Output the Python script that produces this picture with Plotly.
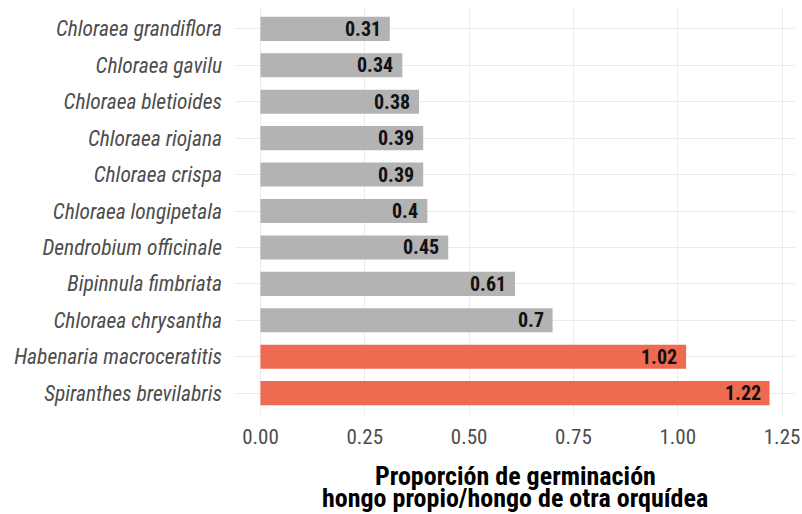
import plotly.graph_objects as go

species = [
    "Chloraea grandiflora", "Chloraea gavilu", "Chloraea bletioides",
    "Chloraea riojana", "Chloraea crispa", "Chloraea longipetala",
    "Dendrobium officinale", "Bipinnula fimbriata", "Chloraea chrysantha",
    "Habenaria macroceratitis", "Spiranthes brevilabris",
]
values = [0.31, 0.34, 0.38, 0.39, 0.39, 0.40, 0.45, 0.61, 0.70, 1.02, 1.22]
labels = ["0.31", "0.34", "0.38", "0.39", "0.39", "0.4", "0.45", "0.61", "0.7", "1.02", "1.22"]
highlight = [False] * 9 + [True, True]
x_ticks = [0, 0.25, 0.5, 0.75, 1.0, 1.25]
x_ticklabels = ["0.00", "0.25", "0.50", "0.75", "1.00", "1.25"]
title_lines = ["Proporción de germinación", "hongo propio/hongo de otra orquídea"]

FONT = "Roboto Condensed, Liberation Sans Narrow, DejaVu Sans Condensed, Roboto, sans-serif"
GRAY = "#b3b3b3"
RED = "#ee6a50"

fig = go.Figure()
fig.add_trace(go.Bar(
    x=values,
    y=species,
    orientation="h",
    width=0.66,
    marker=dict(color=[RED if h else GRAY for h in highlight], line=dict(width=0)),
    hoverinfo="skip",
))

annotations = []
for sp, v, t in zip(species, values, labels):
    annotations.append(dict(
        x=v, y=sp, xref="x", yref="y", text="<b>%s</b>" % t,
        showarrow=False, xanchor="right", yanchor="middle", xshift=-7, yshift=0,
        font=dict(family=FONT, size=20, color="#111111"),
    ))
for i, line in enumerate(title_lines):
    annotations.append(dict(
        x=0.5, y=0, xref="paper", yref="paper", text="<b>%s</b>" % line,
        showarrow=False, xanchor="center", yanchor="middle",
        yshift=-61 - 22 * i,
        font=dict(family=FONT, size=26, color="#000000"),
    ))

fig.update_layout(
    width=802, height=514,
    margin=dict(l=235, r=7, t=7, b=99, autoexpand=False),
    paper_bgcolor="white", plot_bgcolor="white",
    showlegend=False,
    font=dict(family=FONT, color="#4d4d4d"),
    annotations=annotations,
    xaxis=dict(
        range=[-0.061, 1.281], automargin=False,
        tickvals=x_ticks, ticktext=x_ticklabels,
        showgrid=True, gridcolor="#ebebeb", gridwidth=1.2,
        zeroline=False, showline=False, ticks="",
        tickfont=dict(family=FONT, size=21, color="#4d4d4d"),
        ticklabelstandoff=7,
    ),
    yaxis=dict(
        autorange=False, range=[10.6, -0.6], automargin=False,
        categoryorder="array", categoryarray=species,
        showgrid=True, gridcolor="#ebebeb", gridwidth=1.2,
        zeroline=False, showline=False, ticks="",
        tickfont=dict(family=FONT, size=21.5, color="#4d4d4d"),
        ticklabelstandoff=12,
    ),
)
fig.update_yaxes(tickprefix="<i>", ticksuffix="</i>")

fig.write_html(
    "out.html",
    config={"displayModeBar": False},
    post_script="document.body.style.margin='0px';document.body.style.overflow='hidden';",
)
